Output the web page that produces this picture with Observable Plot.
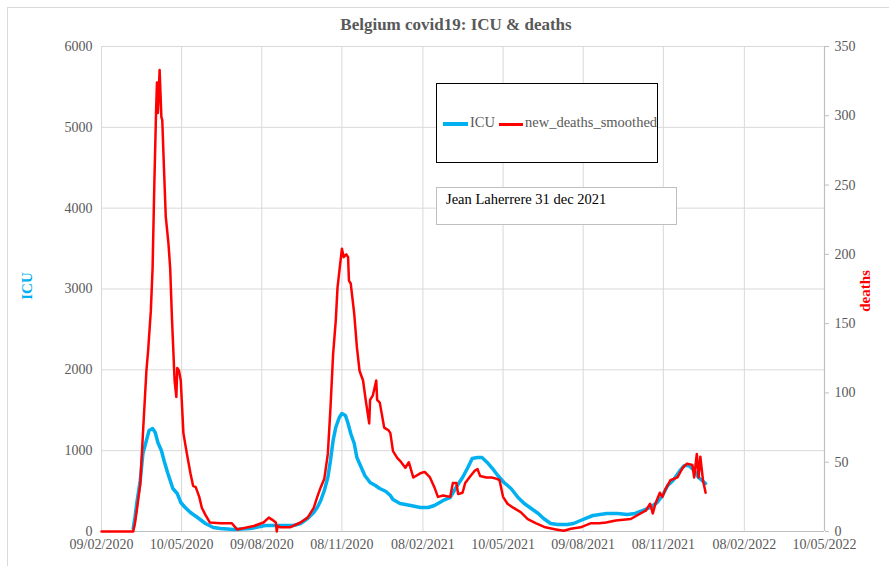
<!DOCTYPE html>
<html><head><meta charset="utf-8">
<script src="https://cdn.jsdelivr.net/npm/d3@7"></script>
<script src="https://cdn.jsdelivr.net/npm/@observablehq/plot@0.6"></script>
<style>
body{margin:0;background:#fff;}
#wrap{position:relative;width:889px;height:566px;overflow:hidden;font-family:"Liberation Serif","Times New Roman",serif;}
#wrap svg{position:absolute;left:0;top:0;}
.border{position:absolute;left:7px;top:7px;width:900px;height:600px;border:1px solid #d9d9d9;box-sizing:border-box;}
.legend{position:absolute;left:436px;top:83px;width:222px;height:80px;border:1px solid #000;box-sizing:border-box;background:#fff;}
.legend .sw{position:absolute;height:0;}
.legend .lt{position:absolute;top:30px;font-size:14.5px;color:#595959;line-height:16px;white-space:nowrap;}
.note{position:absolute;left:436px;top:187px;width:241px;height:38px;border:1px solid #bfbfbf;box-sizing:border-box;background:#fff;}
.note span{position:absolute;left:9px;top:3px;font-size:14.5px;color:#000;white-space:nowrap;}
</style></head>
<body>
<div id="wrap"><div class="border"></div></div>
<script>
// ---- data ----
const xTickLabels = ["09/02/2020","10/05/2020","09/08/2020","08/11/2020","08/02/2021","10/05/2021","09/08/2021","08/11/2021","08/02/2022","10/05/2022"];
const icuTicks = [0,1000,2000,3000,4000,5000,6000];
const deathTicks = [0,50,100,150,200,250,300,350];

const icuDates = ["2020-03-16","2020-03-18","2020-03-20","2020-03-24","2020-03-27","2020-03-31","2020-04-03","2020-04-07","2020-04-10","2020-04-13","2020-04-17","2020-04-20","2020-04-24","2020-04-27","2020-04-30","2020-05-05","2020-05-09","2020-05-14","2020-05-20","2020-05-28","2020-06-06","2020-06-15","2020-06-23","2020-07-08","2020-07-27","2020-08-13","2020-08-30","2020-09-14","2020-09-22","2020-09-30","2020-10-07","2020-10-11","2020-10-15","2020-10-19","2020-10-23","2020-10-26","2020-10-29","2020-11-01","2020-11-05","2020-11-08","2020-11-12","2020-11-15","2020-11-18","2020-11-22","2020-11-25","2020-11-30","2020-12-04","2020-12-10","2020-12-16","2020-12-21","2020-12-28","2021-01-02","2021-01-05","2021-01-13","2021-01-25","2021-02-05","2021-02-14","2021-02-21","2021-03-03","2021-03-11","2021-03-19","2021-03-25","2021-03-31","2021-04-05","2021-04-11","2021-04-16","2021-04-22","2021-04-28","2021-05-04","2021-05-11","2021-05-19","2021-05-27","2021-06-03","2021-06-11","2021-06-19","2021-06-25","2021-07-03","2021-07-11","2021-07-22","2021-07-29","2021-08-06","2021-08-14","2021-08-20","2021-08-28","2021-09-05","2021-09-17","2021-09-28","2021-10-07","2021-10-16","2021-10-24","2021-11-01","2021-11-07","2021-11-13","2021-11-19","2021-11-27","2021-12-02","2021-12-07","2021-12-13","2021-12-18","2021-12-26"];
const icuValues = [37,173,346,631,965,1126,1250,1274,1225,1101,1002,878,730,631,532,470,359,297,235,173,99,49,37,25,37,74,74,74,99,161,235,297,384,507,668,878,1126,1287,1410,1460,1435,1336,1212,1089,916,792,693,606,569,532,495,445,396,346,322,297,297,322,384,421,569,668,792,903,916,916,854,779,693,606,532,421,346,285,223,161,99,87,87,99,136,173,198,210,223,223,210,223,260,297,359,445,569,631,755,817,817,755,668,594];

const deathDates = ["2020-02-09","2020-03-16","2020-03-18","2020-03-20","2020-03-24","2020-03-27","2020-03-31","2020-04-02","2020-04-05","2020-04-07","2020-04-09","2020-04-11","2020-04-12","2020-04-13","2020-04-15","2020-04-17","2020-04-18","2020-04-20","2020-04-22","2020-04-25","2020-04-27","2020-04-29","2020-05-02","2020-05-04","2020-05-05","2020-05-07","2020-05-09","2020-05-12","2020-05-16","2020-05-20","2020-05-23","2020-05-26","2020-05-30","2020-06-02","2020-06-06","2020-06-11","2020-06-23","2020-07-06","2020-07-12","2020-07-31","2020-08-11","2020-08-17","2020-08-22","2020-08-25","2020-08-26","2020-08-27","2020-08-30","2020-09-10","2020-09-22","2020-09-30","2020-10-07","2020-10-11","2020-10-15","2020-10-19","2020-10-23","2020-10-26","2020-10-29","2020-11-01","2020-11-03","2020-11-06","2020-11-08","2020-11-10","2020-11-13","2020-11-15","2020-11-16","2020-11-18","2020-11-22","2020-11-25","2020-11-28","2020-12-02","2020-12-05","2020-12-09","2020-12-10","2020-12-13","2020-12-17","2020-12-18","2020-12-21","2020-12-26","2020-12-31","2021-01-02","2021-01-05","2021-01-10","2021-01-13","2021-01-19","2021-01-23","2021-01-28","2021-02-05","2021-02-10","2021-02-16","2021-02-21","2021-02-25","2021-03-03","2021-03-11","2021-03-14","2021-03-18","2021-03-20","2021-03-25","2021-03-28","2021-04-03","2021-04-08","2021-04-11","2021-04-14","2021-04-21","2021-04-27","2021-05-03","2021-05-06","2021-05-10","2021-05-15","2021-05-22","2021-05-30","2021-06-07","2021-06-16","2021-06-27","2021-07-09","2021-07-18","2021-07-26","2021-08-06","2021-08-18","2021-08-27","2021-09-04","2021-09-15","2021-10-02","2021-10-13","2021-10-19","2021-10-24","2021-10-27","2021-10-30","2021-11-04","2021-11-07","2021-11-10","2021-11-16","2021-11-24","2021-11-30","2021-12-05","2021-12-11","2021-12-13","2021-12-16","2021-12-18","2021-12-20","2021-12-23","2021-12-26"];
const deathValues = [0,0,6,15,34,70,116,131,159,190,251,304,324,302,333,299,297,261,227,208,190,154,109,97,118,116,109,71,56,42,33,32,25,17,12,6.5,6,6,1.5,4,6.5,10,8,6.5,0,4,3,3,6.5,10,17,25,32,38,56,89,128,152,176,193,204,198,200,198,181,179,157,133,116,109,95,78,95,98,109,95,93,75,73,71,58,53,51,46,50,39,42,43,39,32,25,26,25,35,35,27,28,35,40,44,45,40,39,39,38,37,25,20,17,14,9,6,3,1.5,0.5,2,3,6,6,6.5,8,9,13,15,20,13,20,28,25,30,37,39,46,49,48,39,56,39,54,37,28];

// ---- build ----
const parse = d3.utcParse("%Y-%m-%d");
const parseTick = d3.utcParse("%d/%m/%Y");
const xTicks = xTickLabels.map(parseTick);
const k = 6000 / 350;
const icu = icuDates.map((d, i) => ({date: parse(d), v: icuValues[i]}));
const deaths = deathDates.map((d, i) => ({date: parse(d), v: deathValues[i] * k}));
const font = "'Liberation Serif','Times New Roman',serif";

const chart = Plot.plot({
  width: 889, height: 566,
  marginLeft: 101, marginRight: 65, marginTop: 46, marginBottom: 35,
  x: {type: "utc", domain: [xTicks[0], xTicks[xTicks.length - 1]]},
  y: {domain: [0, 6000]},
  style: {fontFamily: font, fontSize: "14px", background: "transparent", overflow: "visible"},
  marks: [
    Plot.gridY(icuTicks, {stroke: "#d9d9d9", strokeOpacity: 1, strokeWidth: 1}),
    Plot.gridX(xTicks, {stroke: "#d9d9d9", strokeOpacity: 1, strokeWidth: 1}),
    Plot.ruleY([0], {stroke: "#bfbfbf", strokeWidth: 1.2}),
    Plot.ruleX([xTicks[xTicks.length - 1]], {stroke: "#bfbfbf", strokeWidth: 1.2}),
    Plot.axisY(icuTicks, {anchor: "left", tickSize: 0, tickPadding: 9, tickFormat: d => String(d), label: null, fill: "#595959"}),
    Plot.axisY(deathTicks.map(v => v * k), {anchor: "right", tickSize: 4, tickPadding: 6, tickFormat: v => String(Math.round(v / k)), label: null, stroke: "#bfbfbf", fill: "#595959"}),
    Plot.axisX(xTicks, {tickSize: 0, tickPadding: 8, tickFormat: d3.utcFormat("%d/%m/%Y"), label: null, fill: "#595959"}),
    Plot.line(icu, {x: "date", y: "v", stroke: "#00b0f0", strokeWidth: 3.5, strokeLinejoin: "round"}),
    Plot.line(deaths, {x: "date", y: "v", stroke: "#ff0000", strokeWidth: 2.5, strokeLinejoin: "round"}),
    Plot.text(["Belgium covid19: ICU & deaths"], {frameAnchor: "top", lineAnchor: "middle", dx: -7, dy: -22, fontWeight: "bold", fontSize: 17, fill: "#595959"}),
    Plot.text(["ICU"], {frameAnchor: "left", textAnchor: "middle", lineAnchor: "middle", dx: -74, dy: -3, rotate: -90, fontWeight: "bold", fontSize: 15, fill: "#00b0f0"}),
    Plot.text(["deaths"], {frameAnchor: "right", textAnchor: "middle", lineAnchor: "middle", dx: 41, dy: 2, rotate: -90, fontWeight: "bold", fontSize: 15, fill: "#ff0000"})
  ]
});
const wrap = document.getElementById("wrap");
wrap.appendChild(chart);

const legend = document.createElement("div");
legend.className = "legend";
legend.innerHTML =
  '<div class="sw" style="left:6px;top:38px;width:25px;border-top:4px solid #00b0f0"></div>' +
  '<span class="lt" style="left:33px">ICU</span>' +
  '<div class="sw" style="left:62px;top:39px;width:24px;border-top:3px solid #ff0000"></div>' +
  '<span class="lt" style="left:88px">new_deaths_smoothed</span>';
wrap.appendChild(legend);

const note = document.createElement("div");
note.className = "note";
note.innerHTML = "<span>Jean Laherrere 31 dec 2021</span>";
wrap.appendChild(note);
</script>
</body></html>
